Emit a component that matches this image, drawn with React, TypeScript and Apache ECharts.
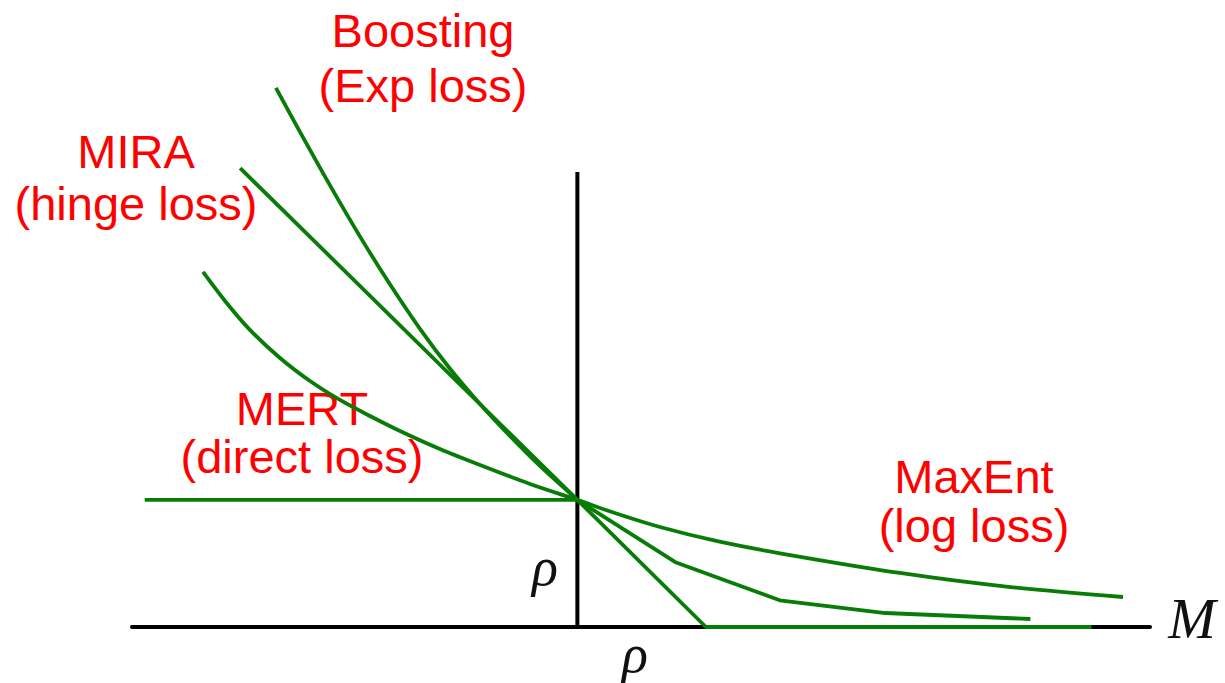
import React, { useEffect, useRef } from "react";
import * as echarts from "echarts";

// Loss as a function of the margin M; one unit on either axis equals rho.
const mertLoss: number[][] = [
  [-3.4, 1],
  [0, 1],
];

const hingeLoss: number[][] = [
  [-2.65, 3.61],
  [0, 1],
  [1.01, 0],
  [4.04, 0],
];

const expLossLeft: number[][] = [
  [-2.369, 4.241],
  [-2.18, 3.895],
  [-1.944, 3.474],
  [-1.709, 3.073],
  [-1.473, 2.696],
  [-1.237, 2.346],
  [-1.001, 2.032],
  [-0.765, 1.755],
  [-0.53, 1.503],
  [-0.294, 1.267],
  [0, 1],
];

const expLossRight: number[][] = [
  [0, 1],
  [0.77, 0.51],
  [1.59, 0.21],
  [2.42, 0.11],
  [3.56, 0.063],
];

const logLoss: number[][] = [
  [-2.942, 2.793],
  [-2.769, 2.565],
  [-2.573, 2.337],
  [-2.337, 2.116],
  [-2.101, 1.935],
  [-1.866, 1.786],
  [-1.63, 1.66],
  [-1.394, 1.542],
  [-1.08, 1.4],
  [-0.765, 1.274],
  [-0.372, 1.125],
  [0, 1],
  [0.3, 0.895],
  [0.649, 0.787],
  [1.1, 0.675],
  [1.592, 0.58],
  [2.535, 0.425],
  [3.321, 0.323],
  [4.288, 0.236],
];

const lossAxis: number[][] = [
  [0, 0],
  [0, 3.58],
];

const boostingLabel = ["Boosting", "(Exp loss)"];
const miraLabel = ["MIRA", "(hinge loss)"];
const mertLabel = ["MERT", "(direct loss)"];
const maxentLabel = ["MaxEnt", "(log loss)"];
const marginSymbol = "M";
const rhoSymbol = "ρ";

const GREEN = "#077c07";
const RED = "#ff0000";
const SANS = "'Liberation Sans', Arial, sans-serif";
const SERIF = "'Liberation Serif', 'Times New Roman', serif";

function labelBlock(lines: string[], cx: number, ys: number[]) {
  return lines.map((t, i) => ({
    type: "text",
    x: cx,
    y: ys[i],
    style: {
      text: t,
      fill: RED,
      font: `47px ${SANS}`,
      textAlign: "center",
      textVerticalAlign: "middle",
    },
  }));
}

function mathSymbol(t: string, cx: number, cy: number, size: number) {
  return {
    type: "text",
    x: cx,
    y: cy,
    style: {
      text: t,
      fill: "#111",
      font: `italic ${size}px ${SERIF}`,
      textAlign: "center",
      textVerticalAlign: "middle",
    },
  };
}

function lossSeries(name: string, data: number[][], smooth: boolean | number) {
  return {
    name,
    type: "line",
    data,
    smooth,
    symbol: "none",
    z: 3,
    lineStyle: { color: GREEN, width: 3.8 },
  };
}

export default function App() {
  const ref = useRef<HTMLDivElement>(null);

  useEffect(() => {
    if (!ref.current) return;
    const chart = echarts.init(ref.current, undefined, { renderer: "svg" });
    chart.setOption({
      animation: false,
      backgroundColor: "#ffffff",
      grid: { left: 132, right: 75, top: 55, bottom: 56, outerBoundsMode: "none" },
      xAxis: {
        type: "value",
        min: -3.5,
        max: 4.5,
        axisLine: { show: true, lineStyle: { color: "#000", width: 4 } },
        axisTick: { show: false },
        axisLabel: { show: false },
        splitLine: { show: false },
      },
      yAxis: {
        type: "value",
        min: 0,
        max: 4.5,
        show: false,
        splitLine: { show: false },
      },
      series: [
        {
          name: "loss axis",
          type: "line",
          data: lossAxis,
          symbol: "none",
          z: 1,
          lineStyle: { color: "#000", width: 4 },
        },
        lossSeries("MERT", mertLoss, false),
        lossSeries("MIRA", hingeLoss, false),
        lossSeries("Boosting", expLossLeft, 0.3),
        lossSeries("Boosting tail", expLossRight, false),
        lossSeries("MaxEnt", logLoss, 0.3),
      ],
      graphic: [
        ...labelBlock(boostingLabel, 423, [30.7, 85.7]),
        ...labelBlock(miraLabel, 136, [151.7, 203.7]),
        ...labelBlock(mertLabel, 302, [408.7, 456.7]),
        ...labelBlock(maxentLabel, 974, [476.7, 525.7]),
        mathSymbol(rhoSymbol, 545, 566.8, 54),
        mathSymbol(rhoSymbol, 635, 653.8, 54),
        mathSymbol(marginSymbol, 1192, 618.5, 57),
      ],
    });
    return () => chart.dispose();
  }, []);

  return (
    <div
      ref={ref}
      style={{ position: "fixed", left: 0, top: 0, width: 1225, height: 683 }}
    />
  );
}
